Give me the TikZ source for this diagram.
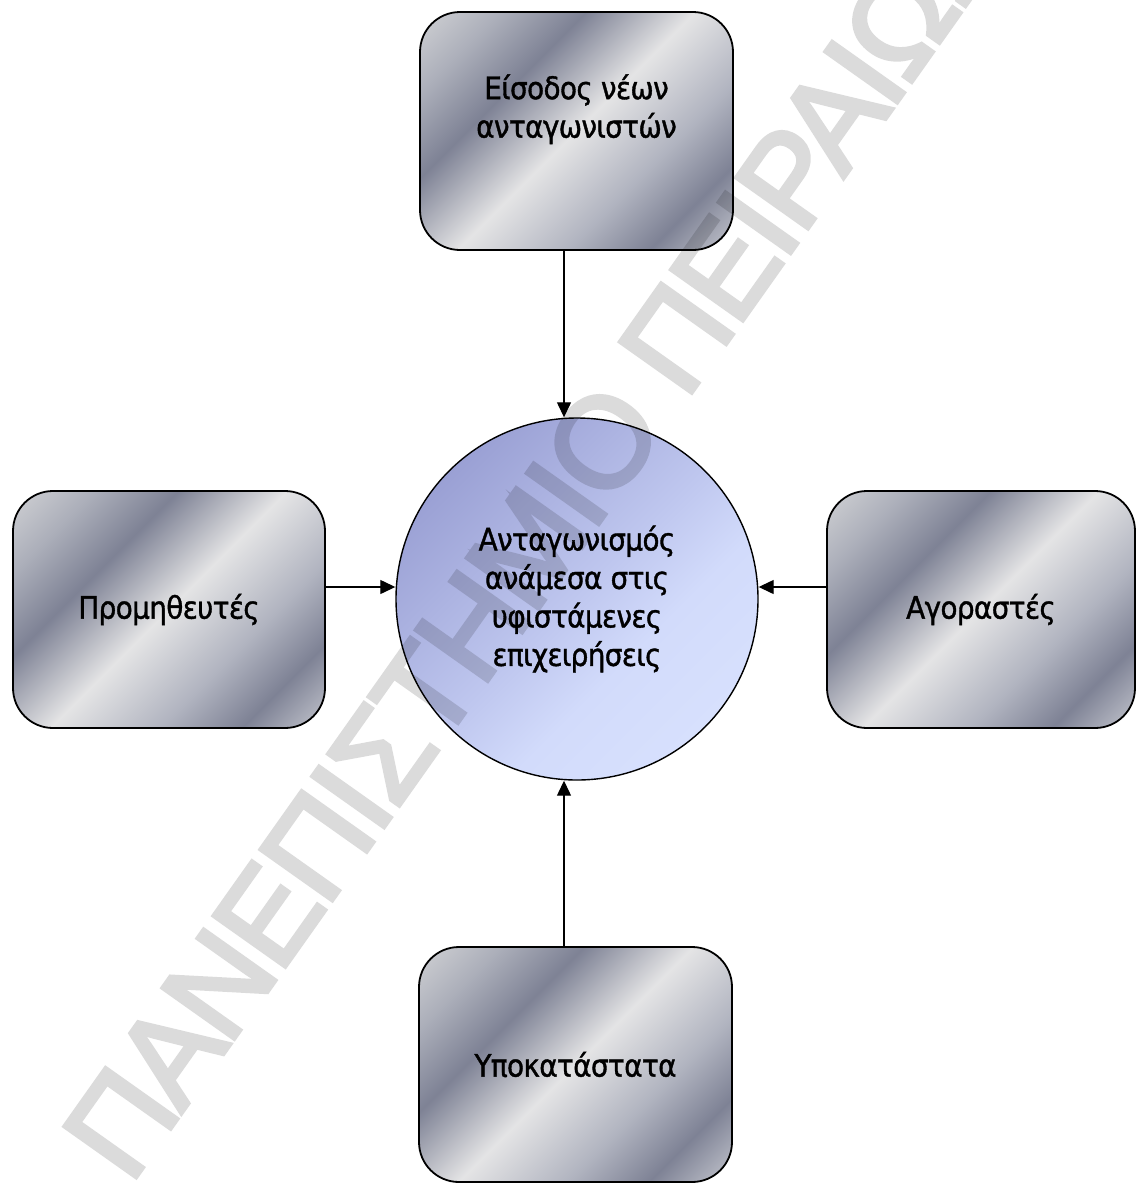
\documentclass[tikz,border=0pt]{standalone}
\usepackage{fontspec}
\setmainfont{DejaVu Sans Condensed}[LetterSpace=-2,FakeBold=1.2]
\newfontfamily\markfont{Liberation Sans}[FakeBold=3.2,LetterSpace=-3.2]
\usetikzlibrary{arrows.meta}

% metallic fill of the four force boxes
\definecolor{chromeA}{HTML}{D0D1D4}
\definecolor{chromeB}{HTML}{ACAFBA}
\definecolor{chromeDark}{HTML}{7E8295}
\definecolor{chromeLight}{HTML}{E4E4E5}
\definecolor{chromeMid}{HTML}{B1B4C0}
\definecolor{chromeEnd}{HTML}{C4C6CE}
\pgfdeclarehorizontalshading{chrome}{100bp}{%
  color(0bp)=(chromeA); color(14.64bp)=(chromeA); color(25bp)=(chromeB);
  color(35.86bp)=(chromeDark); color(50bp)=(chromeLight);
  color(64.14bp)=(chromeMid); color(74.75bp)=(chromeDark);
  color(85.36bp)=(chromeEnd); color(100bp)=(chromeEnd)}

% soft blue fill of the central circle
\definecolor{blueA}{HTML}{9AA0D4}
\definecolor{blueB}{HTML}{BFC7EF}
\definecolor{blueC}{HTML}{D2DBFB}
\definecolor{blueD}{HTML}{D7E0FD}
\pgfdeclarehorizontalshading{bluefade}{100bp}{%
  color(0bp)=(blueA); color(25bp)=(blueA); color(50bp)=(blueB);
  color(61bp)=(blueC); color(75bp)=(blueD); color(100bp)=(blueD)}

\newcommand\boxfont{\fontsize{31}{38.5}\selectfont}

\begin{document}
\begin{tikzpicture}[x=1pt,y=-1pt,
  chromebox/.style={draw=black,line width=1.8pt,rounded corners=40pt,
    shading=chrome,shading angle=-45,inner sep=0pt,align=center,
    font=\boxfont,text=black},
  hub/.style={circle,draw=black,line width=1.4pt,shading=bluefade,
    shading angle=-45,minimum size=362pt,inner sep=0pt,align=center,
    font=\boxfont,text=black},
  flow/.style={line width=1.3pt,-{Triangle[length=15pt,width=14pt]}}]

\clip (0,0) rectangle (1136,1184);

% guide lines along which the arrows run
\coordinate (vx) at (564,0);
\coordinate (hy) at (0,587);

\node[hub] (rivalry) at (577,599)
  {Ανταγωνισμός\\ανάμεσα στις\\υφιστάμενες\\επιχειρήσεις};

\node[chromebox,minimum width=313pt,minimum height=238pt] (entrants) at (576.5,131)
  {Είσοδος νέων\\ανταγωνιστών\\\strut};
\node[chromebox,minimum width=312pt,minimum height=237pt] (suppliers) at (169,609.5)
  {Προμηθευτές};
\node[chromebox,minimum width=308pt,minimum height=237pt] (buyers) at (981,609.5)
  {Αγοραστές};
\node[chromebox,minimum width=313pt,minimum height=235pt] (substitutes) at (575.5,1064.5)
  {Υποκατάστατα};

\draw[flow] (entrants.south -| vx) -- (rivalry.north -| vx);
\draw[flow] (substitutes.north -| vx) -- (rivalry.south -| vx);
\draw[flow] (suppliers.east |- hy) -- (rivalry.west |- hy);
\draw[flow] (buyers.west |- hy) -- (rivalry.east |- hy);

% diagonal watermark over the whole sheet
\begin{scope}[transparency group,opacity=0.14]
  \node[anchor=base west,rotate=54.7,inner sep=0pt,text=black,
        font=\markfont\fontsize{128}{128}\selectfont] (stamp) at (130,1186)
    {ΠΑΝΕΠΙΣΤΗΜΙΟ ΠΕΙΡΑΙΩΣ};
\end{scope}
\end{tikzpicture}
\end{document}
